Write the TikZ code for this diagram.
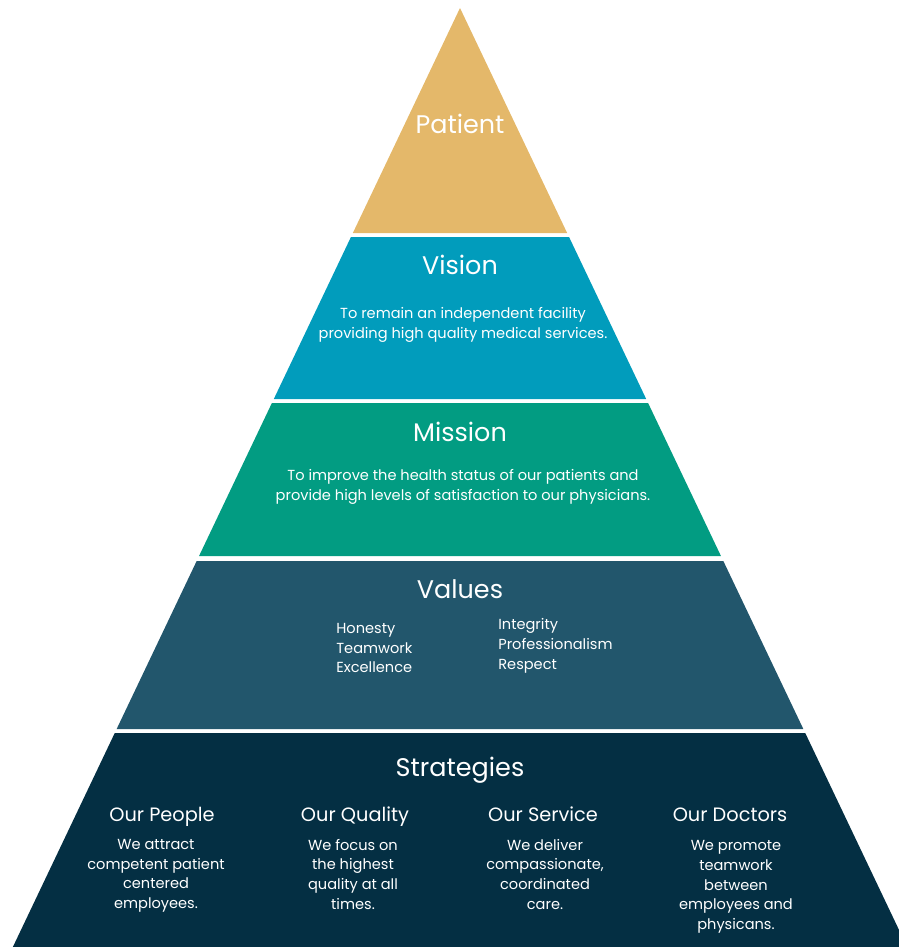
\documentclass[tikz,border=0pt]{standalone}
\usepackage{fontspec}
\setmainfont{Poppins}
\usetikzlibrary{positioning}
\definecolor{patientgold}{HTML}{E4B86A}
\definecolor{visionblue}{HTML}{019CBC}
\definecolor{missiongreen}{HTML}{029C82}
\definecolor{valuesteal}{HTML}{22566C}
\definecolor{stratnavy}{HTML}{042F43}
\begin{document}
\begin{tikzpicture}[x=0.02cm,y=-0.02cm,
    title/.style={text=white,text height=0.7em,text depth=0pt,font=\fontsize{14.5}{17}\selectfont},
    head/.style={text=white,text height=0.7em,text depth=0pt,font=\fontsize{11}{13}\selectfont},
    body/.style={text=white,align=center,inner sep=0pt,font=\fontsize{8.3}{11.2}\selectfont,
        execute at begin node=\strut,execute at end node=\strut}]
    \useasboundingbox (0,0) rectangle (899,947);
    \clip (0,0) rectangle (899,947);
    % bands of the pyramid, apex at (460,8)
    \foreach \t/\b/\c in {8/233/patientgold,237/399/visionblue,403/556/missiongreen,561/729/valuesteal,733/947/stratnavy}
        \fill[\c] ({460-(\t-8)/2.1},\t) -- ({460+(\t-8)/2.1},\t) -- ({460+(\b-8)/2.1},\b) -- ({460-(\b-8)/2.1},\b) -- cycle;
    \node[title] (patient) at (460,127) {Patient};
    \node[title] (vision) at (460,268) {Vision};
    \node[body] (visiontext) at (463,326) {To remain an independent facility\\providing high quality medical services.};
    \node[title] (mission) at (460,435) {Mission};
    \node[body] (missiontext) at (463,488) {To improve the health status of our patients and\\provide high levels of satisfaction to our physicians.};
    \node[title] (values) at (460,592) {Values};
    \node[body,align=left,anchor=west] (valuesleft) at (336,651) {Honesty\\Teamwork\\Excellence};
    \node[body,align=left,anchor=west] (valuesright) at (498,647) {Integrity\\Professionalism\\Respect};
    \node[title] (strategies) at (460,770) {Strategies};
    \node[head] (people) at (162,815) {Our People};
    \node[body] (peopletext) at (156,877) {We attract\\competent patient\\centered\\employees.};
    \node[head] (quality) at (355,815) {Our Quality};
    \node[body] (qualitytext) at (353,877) {We focus on\\the highest\\quality at all\\times.};
    \node[head] (service) at (543,815) {Our Service};
    \node[body] (servicetext) at (545,877) {We deliver\\compassionate,\\coordinated\\care.};
    \node[head] (doctors) at (730,815) {Our Doctors};
    \node[body] (doctorstext) at (736,888) {We promote\\teamwork\\between\\employees and\\physicans.};
\end{tikzpicture}
\end{document}
